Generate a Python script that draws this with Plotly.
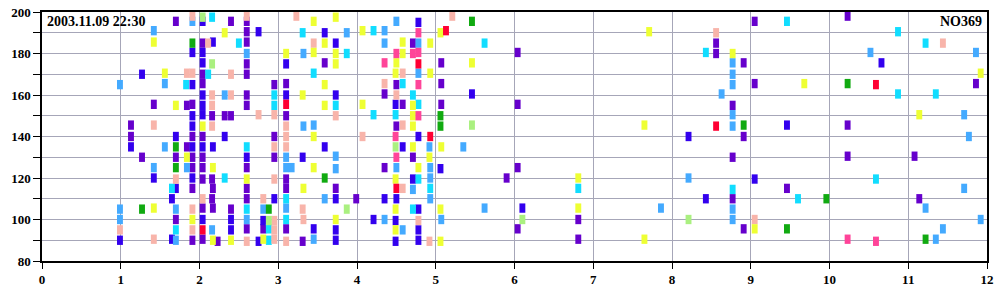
import plotly.graph_objects as go

# ---- data (x = time-like axis 0..12, y = value 80..200), grouped by colour ----
purple_x = [1.70, 2.40, 2.60, 2.60, 2.04, 2.60, 2.60, 2.04, 2.60, 2.04, 2.95, 3.10, 2.60, 2.60, 1.42, 1.84, 1.91,
            2.16, 2.32, 2.40, 3.10, 1.13, 1.13, 1.91, 2.04, 2.95, 1.84,
            1.27, 1.70, 1.91, 2.04, 2.95, 1.91, 2.04, 2.60, 2.04, 2.16, 3.10, 1.91, 2.17, 2.60, 3.10, 2.16, 2.60,
            2.04, 2.17, 2.40, 1.70, 2.60, 2.81, 3.10, 1.91, 2.04, 2.23,
            3.59, 4.71, 5.07, 4.50, 5.07, 4.35, 4.58, 5.07, 4.50,
            4.71, 4.35, 3.73, 3.99, 3.31,
            6.04, 8.56, 8.56, 6.04, 8.77, 8.77, 6.04, 5.90, 8.77, 6.81, 6.04, 6.81,
            9.05, 10.23, 8.91, 9.05, 11.86, 10.23, 8.91, 10.23, 11.08, 9.46, 11.14, 8.91]
purple_y = [195.5, 195.5, 195.5, 190.5, 185, 185.5, 175, 170, 170, 165.5, 165, 165.5, 160, 155, 155.5, 155, 155.5,
            150, 150, 150, 150, 145.5, 140, 140, 140, 140, 135,
            130, 130, 130, 130, 130, 125, 125, 125, 119.5, 119.5, 119.5, 115, 115, 115, 115, 110, 110,
            105.5, 105.5, 105, 100, 95.5, 95.5, 95.5, 90, 90.5, 89.5,
            175.5, 185, 175.5, 165, 165.5, 160.5, 155.5, 155.5, 145,
            130, 125, 115, 110, 89.5,
            180.5, 185, 180, 155.5, 155, 130, 125, 120, 110, 100, 95.5, 90.5,
            195.5, 198, 175.5, 165.5, 165.5, 145.5, 140, 130.5, 130.5, 115, 110, 95.5]

blue_x = [2.04, 2.75, 2.17, 1.91, 2.04, 2.04, 3.10, 1.27, 1.91, 2.04, 3.10, 2.04, 1.91, 2.04, 1.91, 1.70, 2.32,
          1.13, 1.91, 2.04, 2.17,
          2.60, 1.42, 1.91, 1.70, 1.65, 2.95, 2.04, 2.40, 2.81, 2.40, 0.99, 1.65, 2.75,
          4.78, 3.59, 3.73, 5.46, 3.73, 4.49, 4.78, 3.59, 4.58,
          3.31, 5.06, 4.71, 3.73, 4.35, 4.50, 4.78, 4.21, 4.49, 3.45, 3.73, 3.73, 4.78, 4.78, 4.49,
          8.21, 8.43, 6.10,
          10.66, 9.46, 9.05]
blue_y = [195.5, 190.5, 185.5, 180.5, 180.5, 175.5, 175, 170, 165, 160, 160, 155, 150, 150.5, 145, 140, 140,
          135, 135, 135, 135,
          130, 120, 120, 115, 110, 110, 100, 100, 99.5, 95, 90, 90.5, 89.5,
          195, 190, 185, 160.5, 160, 155.5, 140, 135, 135,
          130, 124.5, 119.5, 110, 110, 110, 105, 100, 99.5, 95.5, 95, 90, 95, 90, 89.5,
          140, 110, 105.5,
          175.5, 145.5, 119.5]

lightblue_x = [1.91, 1.42, 2.60, 0.99, 1.56, 2.32, 1.56,
               3.10, 1.42, 1.84, 3.10, 3.17, 0.99, 0.99, 1.70, 2.81, 3.10, 2.60, 2.16, 1.70,
               4.50, 3.87, 4.35, 4.35, 4.78, 3.32, 4.78, 3.32, 3.45, 4.92, 5.35,
               3.73, 3.73, 4.50, 4.93, 4.93, 4.71, 3.59, 4.93, 5.62, 4.35, 5.07, 4.58, 3.45,
               8.77, 8.77, 8.77, 8.63, 8.77, 8.77, 8.21, 7.86, 8.77, 8.77,
               10.52, 11.86, 11.71, 11.77, 11.71, 11.22, 11.92, 11.44, 11.35]
lightblue_y = [195.5, 191, 180, 165, 165.5, 160, 135,
               130, 125, 125, 125, 125, 105, 100, 105, 105, 105.5, 100, 95, 90,
               195.5, 190, 191, 185, 185, 180, 170.5, 145, 145.5, 135, 135,
               130.5, 124.5, 125, 125, 120, 114.5, 110, 110, 105.5, 100, 100, 95, 90.5,
               175.5, 170, 165, 160.5, 150.5, 145, 120, 105.5, 105, 100,
               180.5, 180.5, 150.5, 140, 115, 105.5, 100, 95.5, 90.5]

cyan_x = [2.16, 2.50, 2.11, 1.83, 2.95, 2.95, 2.60,
          2.32, 1.65, 3.10, 2.60, 3.10, 1.70, 2.88, 2.88,
          3.31, 4.21, 5.62, 3.87, 3.45, 4.58, 4.71, 3.73, 4.78, 4.21, 4.49,
          4.78, 4.93, 4.71,
          8.43, 6.81, 8.77,
          9.46, 10.87, 11.22, 10.87, 11.35, 10.59, 9.60]
cyan_y = [197.5, 185, 170, 165, 160, 155, 135,
          120, 115, 110, 105, 100, 95, 95.5, 90,
          190, 191, 185, 180, 170.5, 165.5, 160, 155, 155.5, 150.5, 150.5,
          119.5, 115, 105,
          180.5, 115, 114.5,
          195.5, 190.5, 185, 160.5, 160.5, 119.5, 110]

salmon_x = [1.91, 2.60, 3.23, 2.11, 1.84, 1.91, 2.40, 2.16, 2.40, 2.16, 2.75, 2.95, 1.42, 2.16, 3.10, 3.10, 2.95, 3.10,
            1.70, 2.95, 2.04, 2.81, 1.91, 2.95, 0.99, 1.91, 2.95, 1.42, 2.60, 2.95, 3.10,
            5.21, 3.45, 4.58, 4.35, 4.50, 3.73, 4.58, 4.07,
            4.58, 3.31, 3.32, 4.78, 4.92,
            8.56, 11.44, 9.05]
salmon_y = [198, 198, 198, 185, 170.5, 170.5, 170, 160, 160, 155, 150.5, 150.5, 145.5, 145, 145, 140, 135, 135,
            119.5, 119.5, 110, 110, 105, 99.5, 95, 95, 95, 90.5, 89.5, 90.5, 89.5,
            198, 185, 170.5, 165.5, 160, 150, 145.5, 140,
            115, 105, 100, 99.5, 89.5,
            190, 185, 100]

yellow_x = [2.32, 1.42, 3.10, 1.56, 1.70, 2.04,
            1.84, 2.17, 2.60, 1.42, 1.91, 2.17, 2.40, 2.81,
            3.45, 3.73, 4.07, 5.06, 3.59, 4.58, 4.93, 3.45, 3.73, 4.58, 3.73, 4.50, 5.46, 4.49, 4.93,
            3.31, 3.59, 3.59, 4.07, 4.71, 4.71, 4.71, 3.45, 4.71, 5.07,
            4.92, 3.45, 4.78, 4.49, 3.32, 4.49, 5.06, 3.73, 4.49, 5.06,
            7.71, 8.77, 7.65, 6.81, 6.81, 7.65,
            11.92, 9.68, 11.14, 9.05]
yellow_y = [190, 185.5, 180, 170.5, 155, 145,
            130, 125, 119.5, 105.5, 100, 90, 90, 90.5,
            195.5, 197.5, 191, 190, 185, 185.5, 185, 180.5, 180, 180, 175, 175.5, 175.5, 170.5, 170.5,
            160, 165, 155, 155.5, 155, 150, 145, 140, 135, 135,
            130, 125, 125, 119.5, 115, 105, 105, 100, 95, 89.5,
            190.5, 180, 145.5, 120, 105.5, 90.5,
            170.5, 165.5, 150.5, 95.5]

green_x = [1.91, 1.70, 1.70, 1.27, 2.88, 5.46, 5.06, 5.06, 3.59, 10.23, 8.91, 9.96, 9.46, 11.22]
green_y = [185, 135, 125, 105, 105, 195.5, 150, 145, 120, 165.5, 145.5, 110, 95.5, 90.5]

lightgreen_x = [2.04, 2.16, 2.88, 5.46, 4.49, 3.87, 6.10, 8.21]
lightgreen_y = [197.5, 175, 99.5, 145.5, 135, 105, 100, 100]

red_x = [3.10, 2.04, 5.13, 4.78, 4.93, 4.50, 8.56, 10.59]
red_y = [155.5, 95, 191, 175, 140, 115, 145, 165]

magenta_x = [4.78, 4.50, 4.71, 4.78, 4.35, 4.78, 4.78, 4.49, 4.50, 10.23, 10.59]
magenta_y = [190, 180, 180, 180.5, 175.5, 165, 150, 140, 130, 90.5, 89.5]

series = [
    (purple_x, purple_y, "#6600cc"),
    (blue_x, blue_y, "#3300ee"),
    (lightblue_x, lightblue_y, "#44aaff"),
    (cyan_x, cyan_y, "#11ddff"),
    (salmon_x, salmon_y, "#f8b4aa"),
    (yellow_x, yellow_y, "#eeff33"),
    (green_x, green_y, "#11aa11"),
    (lightgreen_x, lightgreen_y, "#aaf080"),
    (red_x, red_y, "#ff0033"),
    (magenta_x, magenta_y, "#ff4499"),
]

x_ticks = list(range(0, 13))
y_ticks = list(range(80, 201, 20))

BAR_W = 0.075
BAR_H = 4.5

fig = go.Figure()
for xs, ys, col in series:
    fig.add_trace(go.Bar(
        x=xs,
        y=[BAR_H] * len(ys),
        base=[v - BAR_H / 2 for v in ys],
        width=[BAR_W] * len(xs),
        marker=dict(color=col, line=dict(width=0)),
        hoverinfo="skip",
    ))

font_family = "Liberation Serif"
grid_col = "#a6a6b8"

fig.update_layout(
    width=1000, height=300,
    margin=dict(l=42, r=13, t=12, b=39),
    paper_bgcolor="white", plot_bgcolor="white",
    barmode="overlay", showlegend=False,
    font=dict(family=font_family, color="black"),
    xaxis=dict(
        range=[0, 12], tickvals=x_ticks, ticktext=[str(v) for v in x_ticks],
        automargin=False,
        showgrid=True, gridcolor=grid_col, gridwidth=1, zeroline=False,
        ticks="outside", ticklen=6, tickcolor="black",
        showline=True, linecolor="black", linewidth=1.5, mirror=True,
        tickfont=dict(family=font_family, size=13, color="black", weight="bold"),
    ),
    yaxis=dict(
        range=[80, 200], tickvals=y_ticks, ticktext=[str(v) for v in y_ticks],
        automargin=False,
        showgrid=True, gridcolor=grid_col, gridwidth=1, zeroline=False,
        ticks="outside", ticklen=7, tickcolor="black",
        minor=dict(tickvals=list(range(90, 200, 20)), showgrid=True, gridcolor=grid_col,
                   ticks="outside", ticklen=7, tickcolor="black"),
        showline=True, linecolor="black", linewidth=1.5, mirror=True,
        tickfont=dict(family=font_family, size=13, color="black", weight="bold"),
    ),
    annotations=[
        dict(text="2003.11.09 22:30", x=0.003, y=1.0, xref="paper", yref="paper",
             xanchor="left", yanchor="top", showarrow=False,
             font=dict(family=font_family, size=14, color="black", weight="bold")),
        dict(text="NO369", x=0.997, y=1.0, xref="paper", yref="paper",
             xanchor="right", yanchor="top", showarrow=False,
             font=dict(family=font_family, size=14, color="black", weight="bold")),
    ],
)

fig.write_html("out.html")
